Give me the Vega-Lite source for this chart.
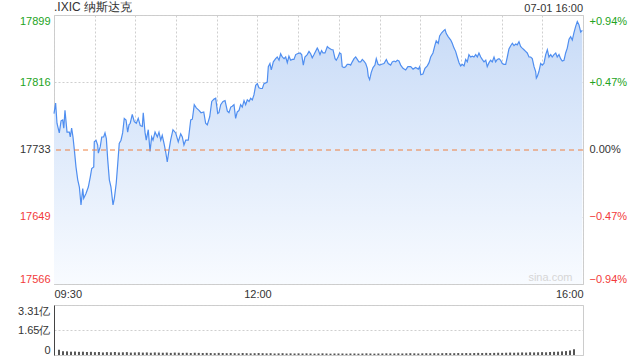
{
  "$schema": "https://vega.github.io/schema/vega-lite/v6.json",
  "background": "white",
  "padding": {"left": 17, "top": 0, "right": 5, "bottom": 5},
  "config": {
    "view": {"stroke": "#cccccc"},
    "font": "Liberation Sans",
    "axis": {"labelFont": "Liberation Sans", "labelFontSize": 11, "labelColor": "#333333", "ticks": false, "domain": false, "title": null, "gridColor": "#cfcfcf", "gridDash": [2, 2], "gridWidth": 1, "labelOverlap": false}
  },
  "datasets": {
    "price": [
      {"t": 0, "p": 17777}, {"t": 1.2, "p": 17790}, {"t": 2.2, "p": 17765}, {"t": 3.9, "p": 17753}, {"t": 5.2, "p": 17768}, {"t": 6.4, "p": 17769}, {"t": 7.2, "p": 17759}, {"t": 8.1, "p": 17781}, {"t": 9.6, "p": 17754}, {"t": 11.3, "p": 17754}, {"t": 12.0, "p": 17748}, {"t": 13.0, "p": 17759}, {"t": 14.0, "p": 17748}, {"t": 15.0, "p": 17732}, {"t": 16.2, "p": 17711}, {"t": 17.5, "p": 17695}, {"t": 18.7, "p": 17686}, {"t": 19.9, "p": 17664}, {"t": 21.2, "p": 17684}, {"t": 21.9, "p": 17672}, {"t": 23.6, "p": 17678}, {"t": 25.3, "p": 17686}, {"t": 26.8, "p": 17699}, {"t": 27.8, "p": 17709}, {"t": 29.3, "p": 17711}, {"t": 29.7, "p": 17742}, {"t": 31.0, "p": 17744}, {"t": 32.2, "p": 17738}, {"t": 32.7, "p": 17728}, {"t": 34.1, "p": 17736}, {"t": 35.2, "p": 17748}, {"t": 36.6, "p": 17748}, {"t": 37.6, "p": 17753}, {"t": 38.6, "p": 17746}, {"t": 39.6, "p": 17720}, {"t": 40.8, "p": 17695}, {"t": 42.0, "p": 17686}, {"t": 43.5, "p": 17664}, {"t": 44.5, "p": 17672}, {"t": 45.9, "p": 17691}, {"t": 47.0, "p": 17715}, {"t": 48.1, "p": 17740}, {"t": 49.4, "p": 17744}, {"t": 50.6, "p": 17753}, {"t": 51.8, "p": 17771}, {"t": 53.1, "p": 17769}, {"t": 54.3, "p": 17754}, {"t": 55.3, "p": 17763}, {"t": 56.2, "p": 17765}, {"t": 57.7, "p": 17776}, {"t": 59.2, "p": 17767}, {"t": 60.7, "p": 17765}, {"t": 62.1, "p": 17771}, {"t": 63.6, "p": 17762},
      {"t": 65.1, "p": 17761}, {"t": 65.8, "p": 17778}, {"t": 67.1, "p": 17754}, {"t": 68.0, "p": 17744}, {"t": 69.5, "p": 17757}, {"t": 70.8, "p": 17730}, {"t": 72.0, "p": 17748}, {"t": 73.0, "p": 17744}, {"t": 74.5, "p": 17754}, {"t": 76.2, "p": 17748}, {"t": 77.4, "p": 17754}, {"t": 78.7, "p": 17744}, {"t": 79.8, "p": 17750}, {"t": 81.1, "p": 17740}, {"t": 82.3, "p": 17730}, {"t": 83.5, "p": 17717}, {"t": 84.8, "p": 17732}, {"t": 86.0, "p": 17744}, {"t": 87.7, "p": 17757}, {"t": 89.7, "p": 17753}, {"t": 91.6, "p": 17742}, {"t": 93.4, "p": 17752}, {"t": 94.6, "p": 17748}, {"t": 95.8, "p": 17738}, {"t": 97.1, "p": 17744}, {"t": 99.0, "p": 17744}, {"t": 100.8, "p": 17769}, {"t": 102.0, "p": 17770}, {"t": 103.4, "p": 17788}, {"t": 104.9, "p": 17784}, {"t": 106.9, "p": 17781}, {"t": 108.4, "p": 17778}, {"t": 110.4, "p": 17779}, {"t": 111.8, "p": 17765}, {"t": 113.0, "p": 17763}, {"t": 114.8, "p": 17773}, {"t": 116.3, "p": 17792}, {"t": 118.0, "p": 17795}, {"t": 119.2, "p": 17796}, {"t": 120.7, "p": 17777}, {"t": 121.6, "p": 17778}, {"t": 122.9, "p": 17788}, {"t": 124.6, "p": 17792}, {"t": 126.1, "p": 17793}, {"t": 127.8, "p": 17780}, {"t": 129.0, "p": 17778}, {"t": 130.3, "p": 17785}, {"t": 131.4, "p": 17786}, {"t": 132.7, "p": 17788}, {"t": 133.9, "p": 17771}, {"t": 135.1, "p": 17779}, {"t": 136.4, "p": 17781}, {"t": 137.6, "p": 17788}, {"t": 138.8, "p": 17785}, {"t": 140.1, "p": 17793}, {"t": 141.3, "p": 17788}, {"t": 142.5, "p": 17794}, {"t": 143.8, "p": 17792}, {"t": 145.0, "p": 17796}, {"t": 146.2, "p": 17794}, {"t": 147.4, "p": 17800}, {"t": 148.7, "p": 17812}, {"t": 149.9, "p": 17814}, {"t": 151.1, "p": 17809}, {"t": 152.4, "p": 17808}, {"t": 153.6, "p": 17808}, {"t": 154.8, "p": 17814}, {"t": 156.1, "p": 17815}, {"t": 157.2, "p": 17816}, {"t": 158.0, "p": 17835}, {"t": 159.2, "p": 17839}, {"t": 160.2, "p": 17831}, {"t": 161.7, "p": 17841}, {"t": 163.4, "p": 17845}, {"t": 164.6, "p": 17847}, {"t": 165.9, "p": 17843}, {"t": 167.1, "p": 17851}, {"t": 168.3, "p": 17847}, {"t": 169.6, "p": 17845}, {"t": 170.8, "p": 17847}, {"t": 172.0, "p": 17840}, {"t": 173.2, "p": 17848}, {"t": 174.5, "p": 17843}, {"t": 175.7, "p": 17844}, {"t": 176.9, "p": 17844}, {"t": 178.2, "p": 17850}, {"t": 179.4, "p": 17851}, {"t": 181.4, "p": 17852}, {"t": 182.6, "p": 17850}, {"t": 183.8, "p": 17837}, {"t": 185.0, "p": 17847}, {"t": 186.7, "p": 17850}, {"t": 188.0, "p": 17854}, {"t": 189.2, "p": 17851}, {"t": 190.4, "p": 17846}, {"t": 191.7, "p": 17850}, {"t": 192.9, "p": 17854}, {"t": 194.1, "p": 17858}, {"t": 194.8, "p": 17856}, {"t": 196.1, "p": 17850}, {"t": 197.3, "p": 17855}, {"t": 198.3, "p": 17852}, {"t": 199.8, "p": 17852}, {"t": 201.5, "p": 17860}, {"t": 202.7, "p": 17858}, {"t": 204.7, "p": 17856}, {"t": 205.7, "p": 17856}, {"t": 207.2, "p": 17845}, {"t": 208.1, "p": 17843}, {"t": 209.4, "p": 17847}, {"t": 210.6, "p": 17852}, {"t": 211.6, "p": 17851}, {"t": 212.5, "p": 17835}, {"t": 213.8, "p": 17834}, {"t": 215.0, "p": 17835}, {"t": 216.2, "p": 17838}, {"t": 217.5, "p": 17838}, {"t": 218.7, "p": 17837}, {"t": 219.9, "p": 17841}, {"t": 221.2, "p": 17845}, {"t": 222.4, "p": 17847}, {"t": 223.6, "p": 17844}, {"t": 224.8, "p": 17841}, {"t": 226.1, "p": 17841}, {"t": 227.3, "p": 17844}, {"t": 228.5, "p": 17842}, {"t": 229.8, "p": 17839}, {"t": 231.0, "p": 17833}, {"t": 231.7, "p": 17823}, {"t": 232.7, "p": 17819}, {"t": 233.9, "p": 17828}, {"t": 235.2, "p": 17834}, {"t": 236.6, "p": 17837}, {"t": 237.6, "p": 17845}, {"t": 238.9, "p": 17838}, {"t": 240.1, "p": 17837}, {"t": 241.6, "p": 17838}, {"t": 243.3, "p": 17839}, {"t": 245.0, "p": 17844}, {"t": 246.4, "p": 17839}, {"t": 248.2, "p": 17837}, {"t": 249.4, "p": 17841}, {"t": 250.7, "p": 17842}, {"t": 251.9, "p": 17841}, {"t": 253.1, "p": 17843}, {"t": 254.3, "p": 17842}, {"t": 255.6, "p": 17837}, {"t": 257.3, "p": 17833}, {"t": 259.3, "p": 17831}, {"t": 260.9, "p": 17835}, {"t": 263.0, "p": 17835}, {"t": 264.7, "p": 17832}, {"t": 266.6, "p": 17834}, {"t": 268.6, "p": 17832}, {"t": 269.6, "p": 17835}, {"t": 270.4, "p": 17825}, {"t": 272.0, "p": 17826}, {"t": 273.5, "p": 17833}, {"t": 275.2, "p": 17836}, {"t": 276.5, "p": 17840}, {"t": 277.7, "p": 17847}, {"t": 279.4, "p": 17852}, {"t": 280.9, "p": 17862}, {"t": 281.8, "p": 17867}, {"t": 283.3, "p": 17864}, {"t": 284.3, "p": 17873}, {"t": 285.8, "p": 17877}, {"t": 287.5, "p": 17880}, {"t": 288.3, "p": 17881}, {"t": 289.2, "p": 17876}, {"t": 290.7, "p": 17872}, {"t": 292.5, "p": 17868}, {"t": 293.6, "p": 17864}, {"t": 294.9, "p": 17858}, {"t": 296.1, "p": 17854}, {"t": 297.3, "p": 17847}, {"t": 298.6, "p": 17840}, {"t": 299.8, "p": 17836}, {"t": 301.0, "p": 17838}, {"t": 302.3, "p": 17836}, {"t": 303.5, "p": 17844}, {"t": 304.7, "p": 17841}, {"t": 305.9, "p": 17850}, {"t": 307.2, "p": 17847}, {"t": 308.4, "p": 17848}, {"t": 309.6, "p": 17847}, {"t": 310.9, "p": 17850}, {"t": 312.1, "p": 17847}, {"t": 313.3, "p": 17852}, {"t": 314.6, "p": 17847}, {"t": 315.7, "p": 17844}, {"t": 317.0, "p": 17841}, {"t": 318.3, "p": 17843}, {"t": 319.4, "p": 17835}, {"t": 320.7, "p": 17840}, {"t": 321.9, "p": 17843}, {"t": 323.1, "p": 17841}, {"t": 324.4, "p": 17847}, {"t": 325.6, "p": 17841}, {"t": 326.8, "p": 17844}, {"t": 328.1, "p": 17845}, {"t": 329.3, "p": 17843}, {"t": 330.5, "p": 17839}, {"t": 331.7, "p": 17838}, {"t": 333.0, "p": 17838}, {"t": 334.2, "p": 17847}, {"t": 335.4, "p": 17857}, {"t": 336.7, "p": 17861}, {"t": 337.9, "p": 17864}, {"t": 339.1, "p": 17861}, {"t": 340.4, "p": 17863}, {"t": 341.5, "p": 17862}, {"t": 342.8, "p": 17866}, {"t": 344.0, "p": 17860}, {"t": 345.2, "p": 17858}, {"t": 346.5, "p": 17856}, {"t": 347.7, "p": 17854}, {"t": 348.9, "p": 17852}, {"t": 350.2, "p": 17847}, {"t": 351.4, "p": 17847}, {"t": 352.6, "p": 17845}, {"t": 353.9, "p": 17835}, {"t": 355.1, "p": 17829}, {"t": 355.6, "p": 17821}, {"t": 356.3, "p": 17823}, {"t": 357.5, "p": 17829}, {"t": 358.8, "p": 17839}, {"t": 360.0, "p": 17837}, {"t": 361.2, "p": 17839}, {"t": 362.5, "p": 17850}, {"t": 363.7, "p": 17856}, {"t": 364.9, "p": 17847}, {"t": 366.2, "p": 17850}, {"t": 367.3, "p": 17847}, {"t": 368.6, "p": 17850}, {"t": 369.9, "p": 17852}, {"t": 371.0, "p": 17847}, {"t": 372.3, "p": 17850}, {"t": 373.5, "p": 17845}, {"t": 374.7, "p": 17842}, {"t": 376.0, "p": 17843}, {"t": 377.2, "p": 17852}, {"t": 378.4, "p": 17858}, {"t": 379.7, "p": 17869}, {"t": 380.9, "p": 17872}, {"t": 382.1, "p": 17868}, {"t": 383.3, "p": 17877}, {"t": 384.6, "p": 17885}, {"t": 385.8, "p": 17891}, {"t": 387.0, "p": 17887}, {"t": 388.3, "p": 17878}, {"t": 389.5, "p": 17880}
    ],
    "vol": [
      {"t": 0, "v": 0.34}, {"t": 3, "v": 0.25}, {"t": 6, "v": 0.24}, {"t": 9, "v": 0.22}, {"t": 12, "v": 0.23}, {"t": 15, "v": 0.21}, {"t": 18, "v": 0.22}, {"t": 21, "v": 0.2}, {"t": 24, "v": 0.21}, {"t": 27, "v": 0.19}, {"t": 30, "v": 0.2},
      {"t": 33, "v": 0.17}, {"t": 36, "v": 0.19}, {"t": 39, "v": 0.18}, {"t": 42, "v": 0.2}, {"t": 45, "v": 0.17}, {"t": 48, "v": 0.18}, {"t": 51, "v": 0.19}, {"t": 54, "v": 0.16}, {"t": 57, "v": 0.17}, {"t": 60, "v": 0.18},
      {"t": 63, "v": 0.16}, {"t": 66, "v": 0.17}, {"t": 69, "v": 0.15}, {"t": 72, "v": 0.17}, {"t": 75, "v": 0.16}, {"t": 78, "v": 0.15}, {"t": 81, "v": 0.16}, {"t": 84, "v": 0.14}, {"t": 87, "v": 0.16}, {"t": 90, "v": 0.15},
      {"t": 93, "v": 0.14}, {"t": 96, "v": 0.15}, {"t": 99, "v": 0.13}, {"t": 102, "v": 0.15}, {"t": 105, "v": 0.14}, {"t": 108, "v": 0.13}, {"t": 111, "v": 0.14}, {"t": 114, "v": 0.13}, {"t": 117, "v": 0.12}, {"t": 120, "v": 0.14},
      {"t": 123, "v": 0.13}, {"t": 126, "v": 0.12}, {"t": 129, "v": 0.13}, {"t": 132, "v": 0.12}, {"t": 135, "v": 0.11}, {"t": 138, "v": 0.13}, {"t": 141, "v": 0.12}, {"t": 144, "v": 0.11}, {"t": 147, "v": 0.12}, {"t": 150, "v": 0.13},
      {"t": 153, "v": 0.12}, {"t": 156, "v": 0.11}, {"t": 159, "v": 0.12}, {"t": 162, "v": 0.1}, {"t": 165, "v": 0.11}, {"t": 168, "v": 0.12}, {"t": 171, "v": 0.1}, {"t": 174, "v": 0.11}, {"t": 177, "v": 0.1}, {"t": 180, "v": 0.11},
      {"t": 183, "v": 0.1}, {"t": 186, "v": 0.11}, {"t": 189, "v": 0.1}, {"t": 192, "v": 0.09}, {"t": 195, "v": 0.1}, {"t": 198, "v": 0.11}, {"t": 201, "v": 0.1}, {"t": 204, "v": 0.09}, {"t": 207, "v": 0.1}, {"t": 210, "v": 0.1},
      {"t": 213, "v": 0.1}, {"t": 216, "v": 0.09}, {"t": 219, "v": 0.1}, {"t": 222, "v": 0.1}, {"t": 225, "v": 0.09}, {"t": 228, "v": 0.1}, {"t": 231, "v": 0.11}, {"t": 234, "v": 0.1}, {"t": 237, "v": 0.09}, {"t": 240, "v": 0.1},
      {"t": 243, "v": 0.1}, {"t": 246, "v": 0.11}, {"t": 249, "v": 0.1}, {"t": 252, "v": 0.1}, {"t": 255, "v": 0.11}, {"t": 258, "v": 0.1}, {"t": 261, "v": 0.11}, {"t": 264, "v": 0.12}, {"t": 267, "v": 0.11}, {"t": 270, "v": 0.1},
      {"t": 273, "v": 0.11}, {"t": 276, "v": 0.12}, {"t": 279, "v": 0.11}, {"t": 282, "v": 0.12}, {"t": 285, "v": 0.11}, {"t": 288, "v": 0.12}, {"t": 291, "v": 0.13}, {"t": 294, "v": 0.12}, {"t": 297, "v": 0.12}, {"t": 300, "v": 0.13},
      {"t": 303, "v": 0.12}, {"t": 306, "v": 0.13}, {"t": 309, "v": 0.12}, {"t": 312, "v": 0.13}, {"t": 315, "v": 0.14}, {"t": 318, "v": 0.13}, {"t": 321, "v": 0.14}, {"t": 324, "v": 0.13}, {"t": 327, "v": 0.14}, {"t": 330, "v": 0.15},
      {"t": 333, "v": 0.14}, {"t": 336, "v": 0.15}, {"t": 339, "v": 0.16}, {"t": 342, "v": 0.15}, {"t": 345, "v": 0.16}, {"t": 348, "v": 0.17}, {"t": 351, "v": 0.16}, {"t": 354, "v": 0.18}, {"t": 357, "v": 0.17}, {"t": 360, "v": 0.18},
      {"t": 363, "v": 0.19}, {"t": 366, "v": 0.18}, {"t": 369, "v": 0.2}, {"t": 372, "v": 0.21}, {"t": 375, "v": 0.22}, {"t": 378, "v": 0.24}, {"t": 381, "v": 0.26}, {"t": 384, "v": 0.3}, {"t": 387, "v": 0.38}
    ],
    "one": [{"k": 1}]
  },
  "vconcat": [
    {
      "width": 529,
      "height": 269,
      "layer": [
        {
          "layer": [
            {
              "data": {"name": "price"},
              "mark": {"type": "area", "color": {"x1": 0, "y1": 0, "x2": 0, "y2": 1, "gradient": "linear", "stops": [{"offset": 0, "color": "#c8dbf7"}, {"offset": 1, "color": "#f8fbff"}]}},
              "encoding": {
                "x": {"field": "t", "type": "quantitative"},
                "y": {"field": "p", "type": "quantitative"},
                "y2": {"datum": 17566}
              }
            },
            {
              "data": {"name": "price"},
              "mark": {"type": "line", "color": "#4f8ef0", "strokeWidth": 1.2},
              "encoding": {
                "x": {"field": "t", "type": "quantitative", "scale": {"domain": [0, 390], "nice": false},
                  "axis": {"values": [0, 30, 60, 90, 120, 150, 180, 210, 240, 270, 300, 330, 360, 390], "grid": true, "labelFlush": true, "labelPadding": 4,
                    "labelExpr": "datum.value == 0 ? '09:30' : datum.value == 150 ? '12:00' : datum.value == 390 ? '16:00' : ''"}},
                "y": {"field": "p", "type": "quantitative", "scale": {"domain": [17566, 17899], "nice": false, "zero": false},
                  "axis": {"values": [17566, 17649, 17733, 17816, 17899], "format": "d", "grid": true, "labelFlush": true, "labelPadding": 4,
                    "gridOpacity": {"condition": {"test": "datum.value == 17733", "value": 0}, "value": 1},
                    "labelColor": {"condition": [{"test": "datum.value > 17733", "value": "#22a322"}, {"test": "datum.value < 17733", "value": "#f23a3a"}], "value": "#333333"}}}
              }
            },
            {
              "data": {"name": "one"},
              "mark": {"type": "text", "align": "left", "baseline": "bottom", "dy": -1, "fontSize": 12, "color": "#333333", "font": "Liberation Sans"},
              "encoding": {"x": {"datum": 0}, "y": {"datum": 17899}, "text": {"value": ".IXIC 纳斯达克"}}
            },
            {
              "data": {"name": "one"},
              "mark": {"type": "text", "align": "right", "baseline": "bottom", "dy": -1, "fontSize": 11, "color": "#333333", "font": "Liberation Sans"},
              "encoding": {"x": {"datum": 390}, "y": {"datum": 17899}, "text": {"value": "07-01 16:00"}}
            },
            {
              "data": {"name": "one"},
              "mark": {"type": "text", "align": "center", "baseline": "bottom", "dy": -1, "fontSize": 11, "color": "#d6d6d6", "font": "Liberation Sans"},
              "encoding": {"x": {"datum": 366}, "y": {"datum": 17566}, "text": {"value": "sina.com"}}
            }
          ]
        },
        {
          "data": {"name": "one"},
          "mark": {"type": "rule", "color": "#ee8040", "strokeDash": [5, 4], "strokeWidth": 1, "yOffset": 0.5, "zindex": 2},
          "encoding": {
            "y": {"datum": 0, "type": "quantitative", "scale": {"domain": [-0.94, 0.94], "nice": false, "zero": false},
              "axis": {"orient": "right", "values": [-0.94, -0.47, 0, 0.47, 0.94], "grid": false, "labelFlush": true, "labelPadding": 6,
                "labelExpr": "(datum.value > 0 ? '+' : '') + format(datum.value, '.2f') + '%'",
                "labelColor": {"condition": [{"test": "datum.value > 0", "value": "#22a322"}, {"test": "datum.value < 0", "value": "#f23a3a"}], "value": "#333333"}}}
          }
        }
      ],
      "resolve": {"scale": {"y": "independent"}}
    },
    {
      "width": 529,
      "height": 50,
      "data": {"name": "vol"},
      "mark": {"type": "bar", "color": "#555555", "size": 2},
      "encoding": {
        "x": {"field": "t", "type": "quantitative", "scale": {"domain": [0, 390], "nice": false}, "axis": null},
        "y": {"field": "v", "type": "quantitative", "scale": {"domain": [0, 3.31], "nice": false},
          "axis": {"values": [0, 1.65, 3.31], "grid": true, "labelFlush": true, "labelPadding": 4, "domain": true, "domainColor": "#444444",
            "labelExpr": "datum.value == 0 ? '0' : format(datum.value, '.2f') + '亿'"}}
      }
    }
  ],
  "spacing": 21,
  "bounds": "flush"
}
